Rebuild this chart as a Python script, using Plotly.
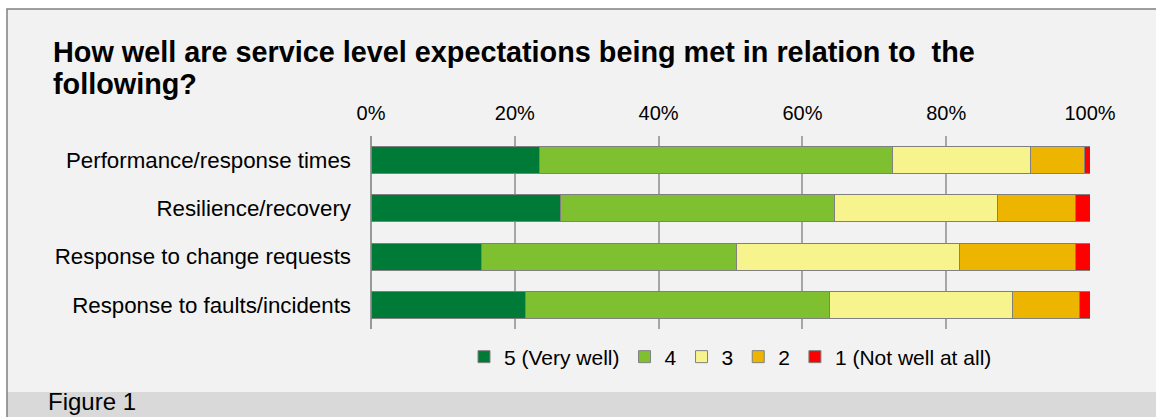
import plotly.graph_objects as go

categories = ["Performance/response times", "Resilience/recovery",
              "Response to change requests", "Response to faults/incidents"]
v5 = [23.5, 26.3, 15.3, 21.5]
v4 = [49.1, 38.1, 35.5, 42.2]
v3 = [19.1, 22.8, 31.1, 25.5]
v2 = [7.5, 10.8, 16.1, 9.3]
v1 = [0.8, 2.0, 2.0, 1.5]
series_names = ["5 (Very well)", "4", "3", "2", "1 (Not well at all)"]
series_values = [v5, v4, v3, v2, v1]
colors = ["#007A37", "#7FC031", "#F7F48D", "#EDB500", "#FF0000"]
x_ticks = [0, 20, 40, 60, 80, 100]
x_ticktext = ["0%", "20%", "40%", "60%", "80%", "100%"]

W, H = 1156, 417
L, R, T, B = 371, 66, 136, 88
PW, PH = W - L - R, H - T - B


def px(x):
    return (x - L) / PW


def py(y):
    return (H - B - y) / PH


FONT = "Liberation Sans, Arial, sans-serif"

fig = go.Figure()
for name, vals, col in zip(series_names, series_values, colors):
    fig.add_trace(go.Bar(
        y=categories, x=vals, name=name, orientation="h",
        marker=dict(color=col, line=dict(color="#808080", width=1)),
        hoverinfo="x+y",
    ))

fig.update_layout(
    width=W, height=H,
    margin=dict(l=L, r=R, t=T, b=B, autoexpand=False),
    barmode="stack", bargap=0.44,
    paper_bgcolor="white", plot_bgcolor="rgba(0,0,0,0)",
    font=dict(family=FONT, color="#000000"),
    showlegend=True,
    legend=dict(orientation="h", x=0.5, xanchor="center", y=py(357), yanchor="middle",
                font=dict(size=21, family=FONT), bgcolor="rgba(0,0,0,0)",
                traceorder="normal"),
    xaxis=dict(side="top", range=[0, 100], tickvals=x_ticks, ticktext=x_ticktext,
               showgrid=True, gridcolor="#A6A6A6", gridwidth=1.5,
               zeroline=True, zerolinecolor="#999999", zerolinewidth=1.5,
               tickfont=dict(size=20, family=FONT), ticks="", ticklabelstandoff=11,
               fixedrange=True),
    yaxis=dict(categoryorder="array", categoryarray=categories, autorange="reversed",
               tickfont=dict(size=22.3, family=FONT), ticks="", showgrid=False,
               ticklabelstandoff=19, fixedrange=True),
    shapes=[
        dict(type="rect", xref="paper", yref="paper", x0=px(7), x1=px(1250),
             y0=py(500), y1=py(9), fillcolor="#F2F2F2", line=dict(width=0), layer="below"),
        dict(type="rect", xref="paper", yref="paper", x0=px(7), x1=px(1250),
             y0=py(500), y1=py(392), fillcolor="#D9D9D9", line=dict(width=0), layer="below"),
        dict(type="rect", xref="paper", yref="paper", x0=px(7), x1=px(1250),
             y0=py(500), y1=py(9), fillcolor="rgba(0,0,0,0)",
             line=dict(color="#808080", width=1.5), layer="below"),
    ],
    annotations=[
        dict(text="<b>How well are service level expectations being met in relation to  the</b>",
             xref="paper", yref="paper", x=px(51), y=py(52), xanchor="left", yanchor="middle",
             showarrow=False, font=dict(size=28.8, family=FONT, color="#000000")),
        dict(text="<b>following?</b>",
             xref="paper", yref="paper", x=px(51), y=py(84), xanchor="left", yanchor="middle",
             showarrow=False, font=dict(size=28.8, family=FONT, color="#000000")),
        dict(text="Figure 1",
             xref="paper", yref="paper", x=px(46), y=py(401), xanchor="left", yanchor="middle",
             showarrow=False, font=dict(size=24, family=FONT, color="#000000")),
    ],
)

fig.write_html("out.html")
